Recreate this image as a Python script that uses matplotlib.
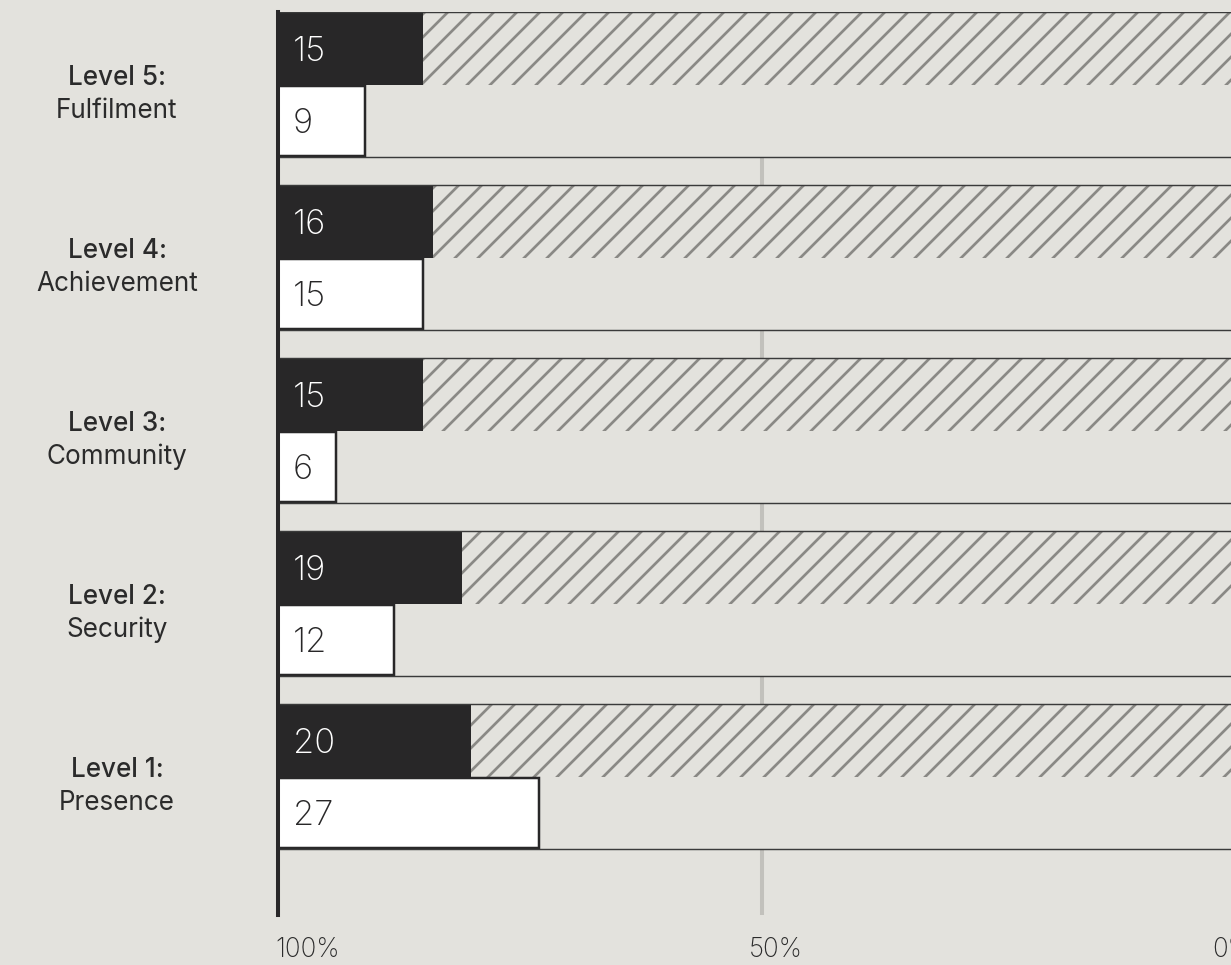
import matplotlib
matplotlib.use("Agg")
import matplotlib.pyplot as plt
import matplotlib.transforms as mtransforms
import numpy as np

# ---- data -------------------------------------------------------------
level_labels = ["Level 5:", "Level 4:", "Level 3:", "Level 2:", "Level 1:"]
level_names = ["Fulfilment", "Achievement", "Community", "Security", "Presence"]
dark_values = [15, 16, 15, 19, 20]
light_values = [9, 15, 6, 12, 27]
tick_values = [0, 50, 100]
tick_labels = ["100%", "50%", "0%"]

# ---- style ------------------------------------------------------------
BG = "#e3e2dd"
INK = "#282728"
HATCH = "#8a8985"
GRID = "#c2c1bc"
TEXT = "#2b2b2b"

DPI = 138
W, H = 1231, 965
plt.rcParams["font.family"] = ["Inter", "DejaVu Sans"]
plt.rcParams["hatch.linewidth"] = 1.4

fig = plt.figure(figsize=(W / DPI, H / DPI), dpi=DPI, facecolor=BG)

# plot area in pixels (right end runs past the canvas edge)
x0_px, x100_px = 278, 1245
top_px, bot_px = 12, 915
bar_px = 72.5
ax = fig.add_axes([x0_px / W, 1 - bot_px / H,
                   (x100_px - x0_px) / W, (bot_px - top_px) / H])
ax.set_facecolor(BG)

n = len(level_labels)
pitch = 173 / bar_px
tops = np.arange(n) * pitch
dark_y = tops + 0.5
light_y = tops + 1.5
dark = np.array(dark_values)
light = np.array(light_values)

ax.set_xlim(0, 100)
ax.set_ylim((bot_px - top_px) / bar_px, 0)

# gridlines
ax.set_xticks(tick_values)
ax.grid(axis="x", color=GRID, linewidth=2.1, zorder=0)
ax.set_axisbelow(True)
ax.tick_params(axis="both", length=0, labelbottom=False, labelleft=False)
ax.set_yticks([])

for side in ["top", "right", "bottom"]:
    ax.spines[side].set_visible(False)
ax.spines["left"].set_color(INK)
ax.spines["left"].set_linewidth(2.1)
ax.spines["left"].set_zorder(6)

# group backgrounds covering the gridlines
ax.barh(tops + 1.0, 100, height=2, left=0, color=BG, linewidth=0, zorder=1)

# hatched remainder of the top bar
ax.barh(dark_y, 100 - dark, left=dark, height=1, facecolor=BG,
        edgecolor=HATCH, hatch="//", linewidth=0, zorder=2)
# dark bars
ax.barh(dark_y, dark, height=1, color=INK, linewidth=0, zorder=3)
# white bars
ax.barh(light_y, light, height=0.96, color="white", edgecolor=INK,
        linewidth=1.3, zorder=4)
# group frames
ax.barh(tops + 1.0, 100, height=2, left=0, facecolor="none",
        edgecolor="#3a3a3a", linewidth=0.75, zorder=5)

# value labels
for y, v in zip(dark_y, dark_values):
    ax.annotate(str(v), xy=(0, y), xytext=(7.8, 0), textcoords="offset points",
                ha="left", va="center_baseline", color="white", fontsize=18,
                fontweight="light", zorder=7)
for y, v in zip(light_y, light_values):
    ax.annotate(str(v), xy=(0, y), xytext=(7.8, 0), textcoords="offset points",
                ha="left", va="center_baseline", color=INK, fontsize=18,
                fontweight="light", zorder=7)

# category labels
trans_fy = mtransforms.blended_transform_factory(fig.transFigure, ax.transData)
label_x = 117 / W
for t, lab, name in zip(tops, level_labels, level_names):
    ax.text(label_x, t + 73 / bar_px, lab, transform=trans_fy, ha="center",
            va="baseline", fontsize=13.6, fontweight="medium", color=TEXT,
            clip_on=False)
    ax.text(label_x, t + 106 / bar_px, name, transform=trans_fy, ha="center",
            va="baseline", fontsize=13.6, color=TEXT, clip_on=False)

# axis labels along the bottom
trans_xf = mtransforms.blended_transform_factory(ax.transData, fig.transFigure)
label_pos = [-0.3, 48.7, 96.6]
for xp, lab in zip(label_pos, tick_labels):
    ax.text(xp, 1 - 957 / H, lab, transform=trans_xf, ha="left",
            va="baseline", fontsize=13.6, fontweight="light", color=TEXT,
            clip_on=False)

fig.savefig("out.png", dpi=DPI, facecolor=BG)
